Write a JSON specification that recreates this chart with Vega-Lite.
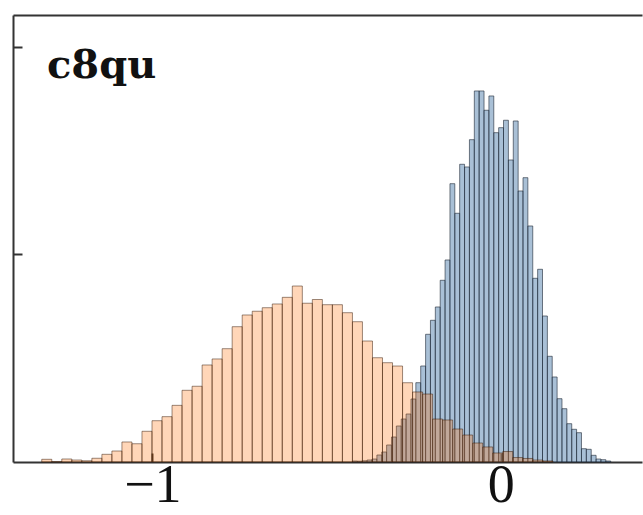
{
  "$schema": "https://vega.github.io/schema/vega-lite/v6.json",
  "width": 629,
  "height": 447,
  "autosize": {"type": "none"},
  "padding": {"left": 13, "top": 15, "right": 1, "bottom": 53},
  "background": "white",
  "config": {"view": {"stroke": null}, "font": "Liberation Serif"},
  "title": {
    "text": "c8qu",
    "anchor": "start",
    "frame": "group",
    "orient": "top",
    "baseline": "alphabetic",
    "offset": -67,
    "dx": 34,
    "dy": 36,
    "font": "DejaVu Serif",
    "fontSize": 40,
    "fontWeight": "bold",
    "color": "#111111"
  },
  "datasets": {
    "blue": [
      {"start": -0.4257, "end": -0.4118, "density": 0.0096},
      {"start": -0.4118, "end": -0.3978, "density": 0.0077},
      {"start": -0.3978, "end": -0.3838, "density": 0.0116},
      {"start": -0.3838, "end": -0.3698, "density": 0.0193},
      {"start": -0.3698, "end": -0.3558, "density": 0.0289},
      {"start": -0.3558, "end": -0.3419, "density": 0.0675},
      {"start": -0.3419, "end": -0.3279, "density": 0.0964},
      {"start": -0.3279, "end": -0.3139, "density": 0.1639},
      {"start": -0.3139, "end": -0.2999, "density": 0.2410},
      {"start": -0.2999, "end": -0.2859, "density": 0.3470},
      {"start": -0.2859, "end": -0.2720, "density": 0.4145},
      {"start": -0.2720, "end": -0.2580, "density": 0.4627},
      {"start": -0.2580, "end": -0.2440, "density": 0.6072},
      {"start": -0.2440, "end": -0.2300, "density": 0.7643},
      {"start": -0.2300, "end": -0.2160, "density": 0.9253},
      {"start": -0.2160, "end": -0.2021, "density": 1.2308},
      {"start": -0.2021, "end": -0.1881, "density": 1.3658},
      {"start": -0.1881, "end": -0.1741, "density": 1.4940},
      {"start": -0.1741, "end": -0.1601, "density": 1.7513},
      {"start": -0.1601, "end": -0.1461, "density": 1.9470},
      {"start": -0.1461, "end": -0.1322, "density": 2.6824},
      {"start": -0.1322, "end": -0.1182, "density": 2.3971},
      {"start": -0.1182, "end": -0.1042, "density": 2.8694},
      {"start": -0.1042, "end": -0.0902, "density": 2.8434},
      {"start": -0.0902, "end": -0.0762, "density": 3.1065},
      {"start": -0.0762, "end": -0.0623, "density": 3.5759},
      {"start": -0.0623, "end": -0.0483, "density": 3.5759},
      {"start": -0.0483, "end": -0.0343, "density": 3.3899},
      {"start": -0.0343, "end": -0.0203, "density": 3.5277},
      {"start": -0.0203, "end": -0.0063, "density": 3.1740},
      {"start": -0.0063, "end": 0.0076, "density": 3.2222},
      {"start": 0.0076, "end": 0.0216, "density": 3.2935},
      {"start": 0.0216, "end": 0.0356, "density": 2.9108},
      {"start": 0.0356, "end": 0.0496, "density": 3.2867},
      {"start": 0.0496, "end": 0.0636, "density": 2.6120},
      {"start": 0.0636, "end": 0.0775, "density": 2.7402},
      {"start": 0.0775, "end": 0.0915, "density": 2.2747},
      {"start": 0.0915, "end": 0.1055, "density": 1.7706},
      {"start": 0.1055, "end": 0.1195, "density": 1.8573},
      {"start": 0.1195, "end": 0.1335, "density": 1.4072},
      {"start": 0.1335, "end": 0.1474, "density": 1.0188},
      {"start": 0.1474, "end": 0.1614, "density": 0.8193},
      {"start": 0.1614, "end": 0.1754, "density": 0.6101},
      {"start": 0.1754, "end": 0.1894, "density": 0.5137},
      {"start": 0.1894, "end": 0.2034, "density": 0.3692},
      {"start": 0.2034, "end": 0.2173, "density": 0.3152},
      {"start": 0.2173, "end": 0.2313, "density": 0.2824},
      {"start": 0.2313, "end": 0.2453, "density": 0.1282},
      {"start": 0.2453, "end": 0.2593, "density": 0.1224},
      {"start": 0.2593, "end": 0.2733, "density": 0.0646},
      {"start": 0.2733, "end": 0.2872, "density": 0.0289},
      {"start": 0.2872, "end": 0.3012, "density": 0.0222},
      {"start": 0.3012, "end": 0.3152, "density": 0.0096}
    ],
    "orange": [
      {"start": -1.3175, "end": -1.2887, "density": 0.026},
      {"start": -1.2887, "end": -1.2600, "density": 0.004},
      {"start": -1.2600, "end": -1.2312, "density": 0.029},
      {"start": -1.2312, "end": -1.2025, "density": 0.019},
      {"start": -1.2025, "end": -1.1737, "density": 0.012},
      {"start": -1.1737, "end": -1.1449, "density": 0.036},
      {"start": -1.1449, "end": -1.1162, "density": 0.074},
      {"start": -1.1162, "end": -1.0874, "density": 0.106},
      {"start": -1.0874, "end": -1.0587, "density": 0.193},
      {"start": -1.0587, "end": -1.0299, "density": 0.176},
      {"start": -1.0299, "end": -1.0011, "density": 0.296},
      {"start": -1.0011, "end": -0.9724, "density": 0.398},
      {"start": -0.9724, "end": -0.9436, "density": 0.437},
      {"start": -0.9436, "end": -0.9149, "density": 0.546},
      {"start": -0.9149, "end": -0.8861, "density": 0.691},
      {"start": -0.8861, "end": -0.8573, "density": 0.730},
      {"start": -0.8573, "end": -0.8286, "density": 0.935},
      {"start": -0.8286, "end": -0.7998, "density": 0.993},
      {"start": -0.7998, "end": -0.7711, "density": 1.092},
      {"start": -0.7711, "end": -0.7423, "density": 1.304},
      {"start": -0.7423, "end": -0.7135, "density": 1.417},
      {"start": -0.7135, "end": -0.6848, "density": 1.453},
      {"start": -0.6848, "end": -0.6560, "density": 1.487},
      {"start": -0.6560, "end": -0.6273, "density": 1.523},
      {"start": -0.6273, "end": -0.5985, "density": 1.587},
      {"start": -0.5985, "end": -0.5697, "density": 1.696},
      {"start": -0.5697, "end": -0.5410, "density": 1.530},
      {"start": -0.5410, "end": -0.5122, "density": 1.566},
      {"start": -0.5122, "end": -0.4835, "density": 1.516},
      {"start": -0.4835, "end": -0.4547, "density": 1.516},
      {"start": -0.4547, "end": -0.4259, "density": 1.439},
      {"start": -0.4259, "end": -0.3972, "density": 1.352},
      {"start": -0.3972, "end": -0.3684, "density": 1.166},
      {"start": -0.3684, "end": -0.3397, "density": 1.005},
      {"start": -0.3397, "end": -0.3109, "density": 0.957},
      {"start": -0.3109, "end": -0.2821, "density": 0.925},
      {"start": -0.2821, "end": -0.2534, "density": 0.764},
      {"start": -0.2534, "end": -0.2246, "density": 0.675},
      {"start": -0.2246, "end": -0.1959, "density": 0.655},
      {"start": -0.1959, "end": -0.1671, "density": 0.414},
      {"start": -0.1671, "end": -0.1383, "density": 0.405},
      {"start": -0.1383, "end": -0.1096, "density": 0.318},
      {"start": -0.1096, "end": -0.0808, "density": 0.260},
      {"start": -0.0808, "end": -0.0521, "density": 0.183},
      {"start": -0.0521, "end": -0.0233, "density": 0.145},
      {"start": -0.0233, "end": 0.0055, "density": 0.087},
      {"start": 0.0055, "end": 0.0342, "density": 0.101},
      {"start": 0.0342, "end": 0.0630, "density": 0.043},
      {"start": 0.0630, "end": 0.0917, "density": 0.034},
      {"start": 0.0917, "end": 0.1205, "density": 0.019},
      {"start": 0.1205, "end": 0.1493, "density": 0.010}
    ]
  },
  "resolve": {"axis": {"x": "independent"}},
  "layer": [
    {
      "data": {"name": "blue"},
      "mark": {"type": "rect", "fill": "#5b86b0", "fillOpacity": 0.52, "stroke": "#1c2733", "strokeOpacity": 0.6, "strokeWidth": 1},
      "encoding": {
        "x": {
          "field": "start", "type": "quantitative",
          "scale": {"domain": [-1.4, 0.405], "nice": false, "zero": false},
          "axis": {
            "orient": "bottom", "values": [-1, 0], "title": null, "grid": false,
            "domainColor": "#333333", "domainWidth": 2,
            "tickColor": "#333333", "tickWidth": 2, "tickSize": -9,
            "labelFont": "Liberation Serif", "labelFontSize": 54, "labelColor": "#111111",
            "labelPadding": 5, "labelFlush": false, "labelOverlap": false
          }
        },
        "x2": {"field": "end"},
        "y": {
          "field": "density", "type": "quantitative",
          "scale": {"domain": [0, 4.308], "nice": false},
          "axis": {
            "orient": "left", "values": [2, 4], "title": null, "grid": false, "labels": false,
            "domainColor": "#333333", "domainWidth": 2,
            "tickColor": "#333333", "tickWidth": 2, "tickSize": -9
          }
        },
        "y2": {"datum": 0}
      }
    },
    {
      "data": {"name": "orange"},
      "mark": {"type": "rect", "fill": "#ff6a00", "fillOpacity": 0.28, "stroke": "#3a1c08", "strokeOpacity": 0.5, "strokeWidth": 1},
      "encoding": {
        "x": {
          "field": "start", "type": "quantitative",
          "axis": {
            "orient": "top", "title": null, "grid": false, "labels": false, "ticks": false,
            "domainColor": "#333333", "domainWidth": 2
          }
        },
        "x2": {"field": "end"},
        "y": {"field": "density", "type": "quantitative"},
        "y2": {"datum": 0}
      }
    }
  ]
}
